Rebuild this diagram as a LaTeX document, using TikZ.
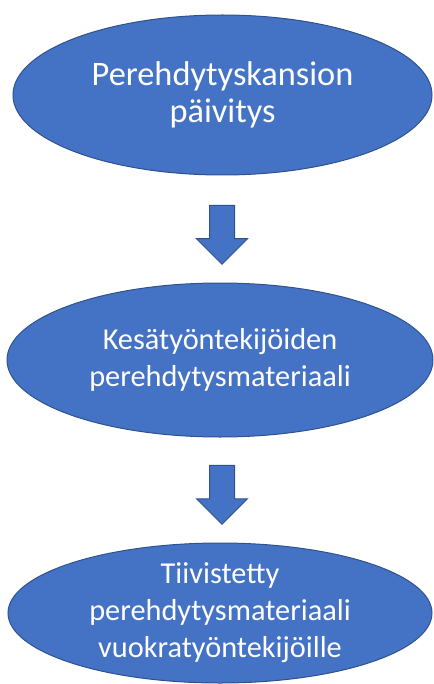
\documentclass[tikz,border=0pt]{standalone}
\usepackage{fontspec}
\setmainfont{Carlito}
\usepackage{tikz}
\usetikzlibrary{shapes.geometric, shapes.arrows}

\definecolor{stepblue}{HTML}{4472C4}
\definecolor{stepline}{HTML}{2F528F}

\begin{document}
\begin{tikzpicture}[x=0.75pt, y=-0.75pt,
    phase/.style={ellipse, draw=stepline, line width=0.75pt, fill=stepblue, text=white,
        align=center, inner sep=0pt, font=\fontsize{22.75}{27.75}\selectfont},
    downarrow/.style={single arrow, rotate=-90, draw=stepline, line width=0.75pt, fill=stepblue,
        minimum height=44.25pt, minimum width=37.5pt, inner xsep=0pt, inner ysep=9pt,
        single arrow head extend=9.75pt}]
        \useasboundingbox (0,0) rectangle (433,684);
        % Three phases of the orientation material, top to bottom
        \node[phase, minimum width=314.25pt, minimum height=120pt,
            font=\fontsize{25.75}{27.75}\selectfont] (kansio) at (222.5,95)
            {Perehdytyskansion\\päivitys};
        \node[downarrow] (nuoli1) at (222,228.5) {};
        \node[phase, minimum width=319.5pt, minimum height=115.5pt] (kesa) at (220,360)
            {Kesätyöntekijöiden\\perehdytysmateriaali};
        \node[downarrow] (nuoli2) at (222,488.5) {};
        \node[phase, minimum width=318pt, minimum height=105pt, inner ysep=-4pt] (vuokra) at (220,613)
            {Tiivistetty\\perehdytysmateriaali\\vuokratyöntekijöille};
    \end{tikzpicture}
\end{document}
